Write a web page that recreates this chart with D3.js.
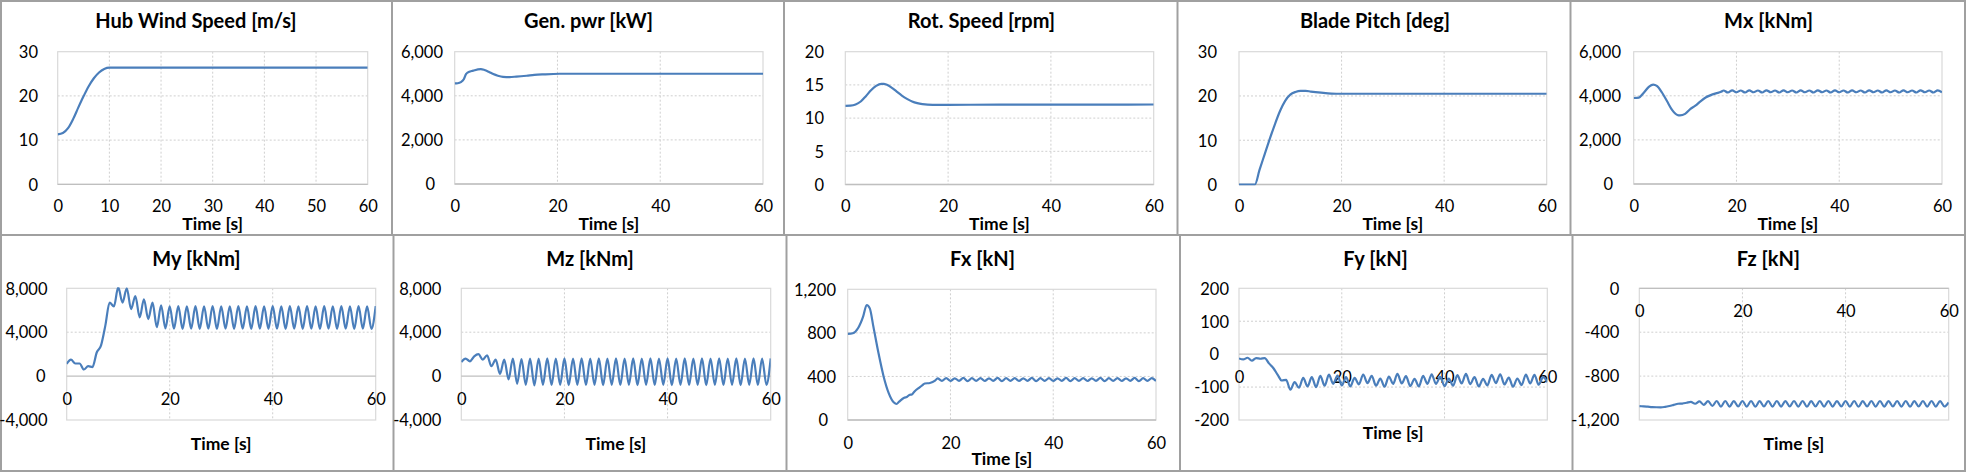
<!DOCTYPE html>
<html><head><meta charset="utf-8">
<script src="https://cdn.jsdelivr.net/npm/d3@7"></script>
<style>
body{margin:0;background:#fff;}
svg{display:block;}
text{font-family:Lato,"Open Sans",sans-serif;fill:#000;}
</style>
</head><body>
<svg id="c" width="1966" height="472"></svg>
<script>
// ---------------- DATA ----------------
const titles = ["Hub Wind Speed [m/s]","Gen. pwr [kW]","Rot. Speed [rpm]","Blade Pitch [deg]","Mx [kNm]",
                "My [kNm]","Mz [kNm]","Fx [kN]","Fy [kN]","Fz [kN]"];
const xTitle = "Time [s]";
const xTicks10 = [0,10,20,30,40,50,60];
const xTicks20 = [0,20,40,60];
const yTicksWind = [0,10,20,30];
const yTicksPow = [0,2000,4000,6000];
const yTicksRpm = [0,5,10,15,20];
const yTicksPitch = [0,10,20,30];
const yTicksMx = [0,2000,4000,6000];
const yTicksMy = [-4000,0,4000,8000];
const yTicksMz = [-4000,0,4000,8000];
const yTicksFx = [0,400,800,1200];
const yTicksFy = [-200,-100,0,100,200];
const yTicksFz = [-1200,-800,-400,0];

const windT = [0,1,2,3,4,5,6,7,8,9,10,60];
const windV = [11.3,11.6,12.7,14.8,17.4,19.9,22.2,24.0,25.3,26.1,26.4,26.4];

const powT = [0,0.6,1.2,1.8,2.2,2.5,3.6,5.1,5.8,6.6,7.5,8.4,9.4,10.7,12,14,15.5,17.2,20.4,30,40,50,60];
const powV = [4560,4570,4620,4760,4980,5050,5140,5210,5170,5090,4985,4910,4860,4850,4870,4910,4945,4970,5000,5000,5000,5000,5000];

const rpmT = [0,1,2,3,4,5,6,7,7.5,8,9,10,11,12,13,14,15,16,18,20,30,40,50,60];
const rpmV = [11.85,11.88,12.05,12.5,13.3,14.2,14.85,15.15,15.15,15.05,14.6,14.0,13.4,12.9,12.5,12.25,12.1,12.02,11.98,12.0,12.02,12.02,12.03,12.05];

const pitchT = [0,3.1,4,5,6,7,8,9,10,11,12,13,14,16,18,20,30,40,50,60];
const pitchV = [0,0,3.3,6.8,10.3,13.6,16.6,18.9,20.3,20.9,21.15,21.15,21.0,20.75,20.55,20.5,20.5,20.5,20.5,20.5];

// sample times (half rotor-3P period)
const tGrid = [0,0.83,1.67,2.5,3.33,4.17,5,5.83,6.67,7.5,8.33,9.17,10,10.83,11.67,12.5,13.33,14.17,15,15.83,
  16.67,17.5,18.33,19.17,20,20.83,21.67,22.5,23.33,24.17,25,25.83,26.67,27.5,28.33,29.17,30,30.83,31.67,32.5,
  33.33,34.17,35,35.83,36.67,37.5,38.33,39.17,40,40.83,41.67,42.5,43.33,44.17,45,45.83,46.67,47.5,48.33,49.17,
  50,50.83,51.67,52.5,53.33,54.17,55,55.83,56.67,57.5,58.33,59.17,60];

const mxT0 = [0,1,2,3,3.8,4.5,5.5,6.5,7.5,8.5,9,10,11,12,13,14,15,16,17];
const mxV = [3900,3920,4150,4420,4510,4450,4150,3750,3350,3130,3110,3180,3400,3550,3750,3920,4030,4110,4180,
  4240,4150,4250,4160,4240,4150,4250,4160,4240,4150,4250,4160,4240,4150,4250,4160,4240,4150,4250,4160,
  4240,4150,4250,4160,4240,4150,4250,4160,4240,4150,4250,4160,4240,4150,4250,4160,4240,4150,4250,4160,
  4240,4150,4250,4160,4240,4150,4250,4160,4240,4150,4250,4160];

const myV = [1120,1500,1150,1150,600,900,820,2150,2800,4600,6700,6350,8100,6700,8000,6100,7300,5350,7000,5200,
  6700,4450,6450,4350,
  6350,4320,6380,4300,6350,4330,6370,4310,6350,4320,6380,4300,6360,4330,6350,4310,6380,4320,6350,4300,
  6370,4330,6350,4310,6380,4320,6350,4300,6370,4330,6350,4310,6380,4320,6350,4300,6370,4330,6350,4310,
  6380,4320,6350,4300,6370,4330,6350,4310,6380];

const mzV = [1280,1600,1350,1800,2000,1500,1900,900,1500,200,1500,-300,1600,-700,1550,-800,1600,-850,
  1600,-800,1620,-810,1600,-800,1610,-820,1600,-800,1620,-810,1600,-800,1610,-820,1600,-800,1620,-810,
  1600,-800,1610,-820,1600,-800,1620,-810,1600,-800,1610,-820,1600,-800,1620,-810,1600,-800,1610,-820,
  1600,-800,1620,-810,1600,-800,1610,-820,1600,-800,1620,-810,1600,-800,1610];

const fxT0 = [0,1,2,3,3.7,4.3,5,6,7,8,9,9.5,10,11,11.5,12,12.5,13,14,14.5,15,16,17];
const fxV = [790,796,842,949,1056,1025,857,612,398,245,160,147,168,205,212,230,235,262,300,318,335,340,361,
  382,360,385,358,383,360,386,357,384,360,385,358,383,360,386,357,384,360,385,358,383,360,386,357,
  384,360,385,358,383,360,386,357,384,360,385,358,383,360,386,357,384,360,385,358,383,360,386,357,384,360,385,358];

const fyV = [-13,-16,-11,-20,-12,-14,-12,-28,-42,-62,-80,-78,-108,-85,-102,-72,-98,-70,-100,-66,-96,-62,-90,
  -65,-95,-70,-98,-72,-92,-62,-88,-66,-96,-74,-99,-68,-90,-60,-89,-67,-97,-75,-98,-66,-90,-61,-90,-69,-97,
  -74,-96,-64,-89,-60,-91,-70,-98,-75,-95,-63,-88,-61,-92,-71,-99,-74,-94,-62,-89,-63,-93,-70,-85];

const fzV = [-1073,-1076,-1079,-1082,-1084,-1085,-1080,-1072,-1062,-1052,-1050,-1043,-1035,-1052,-1030,-1062,
  -1028,-1072,-1027,-1078,-1027,-1078,-1028,-1077,-1027,-1078,-1027,-1079,-1028,-1077,-1027,-1078,-1027,-1078,
  -1028,-1077,-1027,-1078,-1027,-1079,-1028,-1077,-1027,-1078,-1027,-1078,-1028,-1077,-1027,-1078,-1027,-1079,
  -1028,-1077,-1027,-1078,-1027,-1078,-1028,-1077,-1027,-1078,-1027,-1079,-1028,-1077,-1027,-1078,-1027,-1078,
  -1028,-1077,-1040];

const mxT = mxT0.concat(tGrid.slice(21));
const fxT = fxT0.concat(tGrid.slice(21));

// ---------------- LAYOUT ----------------
const C = {line:"#4a7ebb", grid:"#cfcfcf", frame:"#d9d9d9", axis:"#bfbfbf", border:"#a0a0a0"};
const F = {title:20, tick:16.5, xt:17.5};
// plot: [left, top, right, bottom]; labR: right edge of y labels; xl: baseline x labels; xtY: baseline axis title
const panels = [
 {t:windT, v:windV, yd:[0,30], yt:yTicksWind, xt:xTicks10, plot:[57.7,51.7,367.7,184.3], labR:38, z:0, xl:212, xtY:230, ty:28, cx:196},
 {t:powT, v:powV, yd:[0,6000], yt:yTicksPow, xt:xTicks20, plot:[454.7,51.7,763,184], labR:443, z:8, xl:212, xtY:230, ty:28, cx:588.5},
 {t:rpmT, v:rpmV, yd:[0,20], yt:yTicksRpm, xt:xTicks20, plot:[845.3,51.7,1153.7,184.5], labR:824, z:0, xl:212, xtY:230, ty:28, cx:981.5},
 {t:pitchT, v:pitchV, yd:[0,30], yt:yTicksPitch, xt:xTicks20, plot:[1239,51.7,1546.7,184.5], labR:1217, z:0, xl:212, xtY:230, ty:28, cx:1375},
 {t:mxT, v:mxV, yd:[0,6000], yt:yTicksMx, xt:xTicks20, plot:[1633.7,51.7,1942,184], labR:1621, z:8, xl:212, xtY:230, ty:28, cx:1768.5},
 {t:tGrid, v:myV, yd:[-4000,8000], yt:yTicksMy, xt:xTicks20, plot:[66.7,288.3,375.7,420], labR:47.5, z:2, xl:405, xtY:450, ty:266, cx:196.5},
 {t:tGrid, v:mzV, yd:[-4000,8000], yt:yTicksMz, xt:xTicks20, plot:[461.3,288.3,770.7,420], labR:441.3, z:0, xl:405, xtY:450, ty:266, cx:590},
 {t:fxT, v:fxV, yd:[0,1200], yt:yTicksFx, xt:xTicks20, plot:[847.7,289.3,1156,420], labR:836, z:8, xl:449, xtY:465, ty:266, cx:982.5},
 {t:tGrid, v:fyV, yd:[-200,200], yt:yTicksFy, xt:xTicks20, plot:[1239,288.3,1547.3,420], labR:1229, z:10, xl:383, xtY:439, ty:266, cx:1375.5},
 {t:tGrid, v:fzV, yd:[-1200,0], yt:yTicksFz, xt:xTicks20, plot:[1639.3,288.3,1948.7,420], labR:1619.3, z:0, xl:317, xtY:450, ty:266, cx:1768.5}
];

const fmt = d3.formatLocale({decimal:".",thousands:",",grouping:[3],currency:["",""],minus:"-"}).format(",");
const svg = d3.select("#c");

// cell borders
const bx = svg.append("g").attr("stroke",C.border).attr("stroke-width",2).attr("fill","none");
bx.append("rect").attr("x",1).attr("y",1).attr("width",1964).attr("height",470);
bx.append("line").attr("x1",0).attr("x2",1966).attr("y1",235).attr("y2",235);
[392,784,1177.5,1570.5].forEach(x=>bx.append("line").attr("x1",x).attr("x2",x).attr("y1",0).attr("y2",235));
[393.5,786.5,1180,1572.5].forEach(x=>bx.append("line").attr("x1",x).attr("x2",x).attr("y1",235).attr("y2",472));

panels.forEach((p,i)=>{
  const [L,T,R,B] = p.plot;
  const x = d3.scaleLinear().domain([0,60]).range([L,R]);
  const y = d3.scaleLinear().domain(p.yd).range([B,T]);
  const g = svg.append("g");

  // gridlines
  g.append("g").selectAll("line").data(p.yt.filter(v=>v!==p.yd[0]&&v!==p.yd[1]&&v!==0)).join("line")
    .attr("x1",L).attr("x2",R).attr("y1",d=>y(d)).attr("y2",d=>y(d))
    .attr("stroke",C.grid).attr("stroke-width",1).attr("stroke-dasharray","2,2");
  g.append("g").selectAll("line").data(p.xt.filter(v=>v>0&&v<60)).join("line")
    .attr("x1",d=>x(d)).attr("x2",d=>x(d)).attr("y1",T).attr("y2",B)
    .attr("stroke",C.grid).attr("stroke-width",1).attr("stroke-dasharray","2,2");
  // frame
  g.append("rect").attr("x",L).attr("y",T).attr("width",R-L).attr("height",B-T)
    .attr("fill","none").attr("stroke",C.frame).attr("stroke-width",1.2);
  // horizontal axis line at 0
  g.append("line").attr("x1",L).attr("x2",R).attr("y1",y(0)).attr("y2",y(0))
    .attr("stroke",C.axis).attr("stroke-width",1.3);

  // y axis labels
  const ya = g.append("g").attr("transform",`translate(${p.labR},0)`)
    .call(d3.axisLeft(y).tickValues(p.yt).tickSize(0).tickPadding(0).tickFormat(fmt));
  ya.select(".domain").remove();
  ya.selectAll("text").attr("font-size",F.tick).attr("font-family","Lato").attr("fill","#000")
    .attr("x",d=>d===0?-p.z:0).attr("dy","0.35em");

  // x axis labels
  const xa = g.append("g").attr("transform",`translate(0,${p.xl})`)
    .call(d3.axisBottom(x).tickValues(p.xt).tickSize(0).tickPadding(0).tickFormat(fmt));
  xa.select(".domain").remove();
  xa.selectAll("text").attr("font-size",F.tick).attr("font-family","Lato").attr("fill","#000")
    .attr("y",0).attr("dy",null);

  // titles
  g.append("text").attr("x",p.cx).attr("y",p.ty).attr("text-anchor","middle")
    .attr("font-size",F.title).attr("font-weight","bold").text(titles[i]);
  g.append("text").attr("x",(L+R)/2).attr("y",p.xtY).attr("text-anchor","middle")
    .attr("font-size",F.xt).attr("font-weight","bold").text(xTitle);

  // series line
  const cid = "clip"+i;
  svg.append("clipPath").attr("id",cid).append("rect").attr("x",L).attr("y",T-1).attr("width",R-L).attr("height",B-T+2);
  const pts = p.t.map((t,k)=>[t,p.v[k]]);
  g.append("path").attr("clip-path",`url(#${cid})`).datum(pts)
    .attr("fill","none").attr("stroke",C.line).attr("stroke-width",2.2)
    .attr("stroke-linejoin","round")
    .attr("d",d3.line().x(d=>x(d[0])).y(d=>y(d[1])).curve(d3.curveMonotoneX));
});
</script>
</body></html>
